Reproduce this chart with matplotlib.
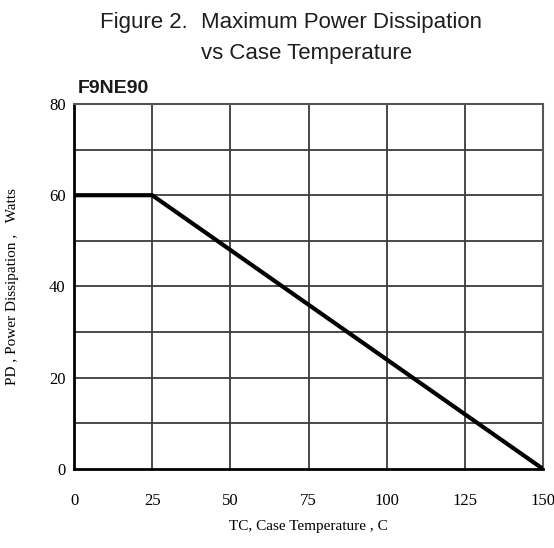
import matplotlib
matplotlib.use('Agg')
import matplotlib.pyplot as plt
import numpy as np

# derating curve
case_temp = [0, 25, 150]
power_diss = [60, 60, 0]

x_ticks = [0, 25, 50, 75, 100, 125, 150]
y_ticks = [0, 20, 40, 60, 80]
y_grid = [10, 30, 50, 70]

fig = plt.figure(figsize=(5.54, 5.48), dpi=100)
ax = fig.add_axes([0.1336, 0.1442, 0.8466, 0.6661])

grid_col = '#3c3c3c'
for xv in x_ticks[1:-1]:
    ax.axvline(xv, color=grid_col, lw=1.3, zorder=1)
for yv in y_ticks[1:-1] + y_grid:
    ax.axhline(yv, color=grid_col, lw=1.3, zorder=1)

ax.plot(case_temp, power_diss, color='black', lw=3.0, solid_capstyle='butt', zorder=3)

ax.set_xlim(0, 150)
ax.set_ylim(0, 80)
ax.set_xticks(x_ticks)
ax.set_yticks(y_ticks)
ax.tick_params(length=0)
ax.tick_params(axis='x', pad=17)
ax.tick_params(axis='y', pad=6)
for lab in ax.get_xticklabels() + ax.get_yticklabels():
    lab.set_family('Liberation Serif')
    lab.set_fontsize(12)

for spine in ['left', 'bottom']:
    ax.spines[spine].set_linewidth(2.0)
    ax.spines[spine].set_color('black')
for spine in ['top', 'right']:
    ax.spines[spine].set_linewidth(1.5)
    ax.spines[spine].set_color('#555555')

ax.set_xlabel('TC, Case Temperature , C', family='Liberation Serif', fontsize=11, labelpad=8)
ax.set_ylabel('PD , Power Dissipation ,   Watts', family='Liberation Serif', fontsize=11, labelpad=22)

fig.text(0.18, 0.959, 'Figure 2.', family='Liberation Sans', fontsize=16, color='#1e1e1e', va='center')
fig.text(0.362, 0.959, 'Maximum Power Dissipation', family='Liberation Sans', fontsize=16, color='#1e1e1e', va='center')
fig.text(0.362, 0.902, 'vs Case Temperature', family='Liberation Sans', fontsize=16, color='#1e1e1e', va='center')
fig.text(0.141, 0.838, 'F9NE90', family='Liberation Sans', fontsize=14, fontweight='bold', color='#1a1a1a', va='center')

fig.savefig('out.png', dpi=100)
